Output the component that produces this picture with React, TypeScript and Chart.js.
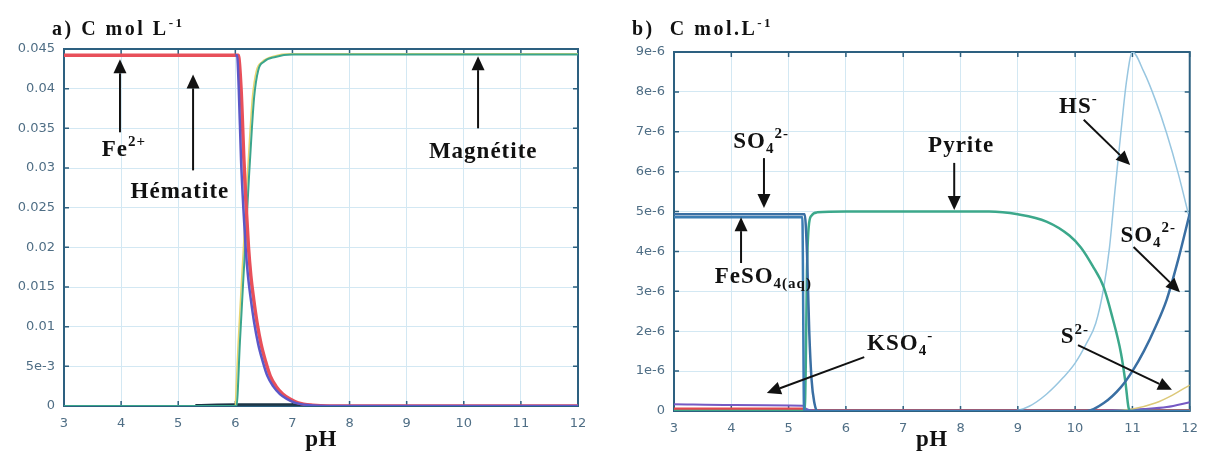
import React, { useEffect, useRef } from 'react';
import { Chart, registerables } from 'chart.js';

Chart.register(...registerables);

// ---------- shared axis labels ----------
const phTickLabels = ['3', '4', '5', '6', '7', '8', '9', '10', '11', '12'];
const yTickLabelsA = ['0', '5e-3', '0.01', '0.015', '0.02', '0.025', '0.03', '0.035', '0.04', '0.045'];
const yTickLabelsB = ['0', '1e-6', '2e-6', '3e-6', '4e-6', '5e-6', '6e-6', '7e-6', '8e-6', '9e-6'];

// ---------- panel a) ----------
const hemPH = [6.0, 6.03, 6.06, 6.1, 6.14, 6.18, 6.22, 6.27, 6.33, 6.4, 6.48, 6.56, 6.66, 6.78, 6.9, 7.05, 7.3, 7.6, 12];
const hemC = [0.0442, 0.0442, 0.04, 0.031, 0.025, 0.02, 0.0165, 0.0135, 0.0105, 0.0078, 0.0056, 0.0038, 0.0025, 0.0015, 0.0009, 0.0004, 0.0001, 0, 0];
const fe2PH = [3, 6.05, 6.1, 6.15, 6.19, 6.23, 6.27, 6.32, 6.38, 6.45, 6.53, 6.61, 6.71, 6.83, 6.95, 7.1, 7.35, 7.65, 12];
const fe2C = [0.0442, 0.0442, 0.04, 0.031, 0.025, 0.02, 0.0165, 0.0135, 0.0105, 0.0078, 0.0056, 0.0038, 0.0025, 0.0015, 0.0009, 0.0004, 0.0001, 0, 0];
const magPH = [3, 6.02, 6.08, 6.14, 6.18, 6.24, 6.29, 6.33, 6.4, 6.5, 6.7, 7.0, 12];
const magC = [0, 0, 0.008, 0.016, 0.021, 0.029, 0.035, 0.039, 0.0423, 0.0434, 0.044, 0.0443, 0.0443];
const yelPH = [6.0, 6.05, 6.11, 6.15, 6.21, 6.26, 6.3, 6.37, 6.47, 6.67, 6.97, 12];
const yelC = [0, 0.008, 0.016, 0.021, 0.029, 0.035, 0.039, 0.0423, 0.0434, 0.0441, 0.0444, 0.0444];
const minorPH = [5.3, 6.0, 7.0, 7.3, 7.5];
const minorC = [0.0001, 0.0002, 0.0002, 0.0001, 0];

// ---------- panel b) ----------
const feso4PH = [3, 5.24, 5.27, 12];
const feso4C = [4.86e-6, 4.86e-6, 0, 0];
const so4PH = [3, 5.28, 5.32, 5.36, 5.4, 5.45, 5.5, 10.2, 10.5, 10.8, 11.0, 11.2, 11.4, 11.6, 11.8, 12];
const so4C = [4.93e-6, 4.93e-6, 4.0e-6, 2.0e-6, 0.8e-6, 0.2e-6, 0, 0, 0.2e-6, 0.6e-6, 1.0e-6, 1.5e-6, 2.1e-6, 2.8e-6, 3.8e-6, 4.95e-6];
const pyrPH = [3, 5.28, 5.3, 5.32, 5.35, 5.4, 5.5, 6, 8.5, 9.0, 9.5, 9.9, 10.1, 10.3, 10.5, 10.65, 10.8, 10.88, 10.93, 10.96, 12];
const pyrC = [0, 0, 1.2e-6, 3.5e-6, 4.6e-6, 4.9e-6, 4.98e-6, 5.0e-6, 5.0e-6, 4.93e-6, 4.75e-6, 4.4e-6, 4.1e-6, 3.65e-6, 3.1e-6, 2.35e-6, 1.45e-6, 0.7e-6, 0.1e-6, 0, 0];
const hsPH = [3, 8.9, 9.2, 9.5, 9.8, 10.0, 10.2, 10.36, 10.5, 10.6, 10.7, 10.8, 10.9, 11.0, 11.2, 11.4, 11.6, 11.8, 12];
const hsC = [0, 0, 0.12e-6, 0.42e-6, 0.85e-6, 1.2e-6, 1.7e-6, 2.2e-6, 3.1e-6, 4.1e-6, 5.6e-6, 7.0e-6, 8.3e-6, 9.0e-6, 8.5e-6, 7.8e-6, 6.95e-6, 5.95e-6, 4.8e-6];
const s2PH = [10.6, 11.0, 11.4, 11.7, 12];
const s2C = [0, 0.05e-6, 0.2e-6, 0.4e-6, 0.65e-6];
const kso4PH = [3, 4, 5.25, 5.3, 5.4, 5.5, 10.3, 10.8, 11.2, 11.6, 12];
const kso4C = [0.17e-6, 0.15e-6, 0.13e-6, 0.06e-6, 0.01e-6, 0, 0, 0.02e-6, 0.05e-6, 0.1e-6, 0.22e-6];
const feBPH = [3, 5.27, 5.3, 12];
const feBC = [0.04e-6, 0.04e-6, 0, 0];
const otherPH = [8.3, 10, 12];
const otherC = [0, 0.005e-6, 0.02e-6];

// ---------- styles ----------
const GRID = '#d3e8f3';
const BOX = '#2d6080';
const TICKTXT = '#4f6e85';
const INK = '#111111';
const SERIF = '"Liberation Serif", "Times New Roman", serif';

type Seg = [string, number];
type Series = { x: number[]; y: number[]; color: string; w: number };
type Label = { segs: Seg[]; x: number; y: number; align: 'left' | 'center' };
type Arrow = { x1: number; y1: number; x2: number; y2: number };

function drawRich(ctx: CanvasRenderingContext2D, segs: Seg[], x: number, y: number, size: number, align: string, spacing: number) {
  const small = Math.round(size * 0.64);
  const fontFor = (k: number) => `bold ${k === 0 ? size : small}px ${SERIF}`;
  (ctx as any).letterSpacing = spacing + 'px';
  const widths = segs.map(([t, k]) => {
    ctx.font = fontFor(k);
    return ctx.measureText(t).width;
  });
  const total = widths.reduce((a, b) => a + b, 0);
  let cx = align === 'center' ? x - total / 2 : x;
  ctx.fillStyle = INK;
  ctx.textAlign = 'left';
  ctx.textBaseline = 'alphabetic';
  segs.forEach(([t, k], i) => {
    ctx.font = fontFor(k);
    const dy = k === 1 ? -size * 0.42 : k === -1 ? size * 0.22 : 0;
    ctx.fillText(t, cx, y + dy);
    cx += widths[i];
  });
  (ctx as any).letterSpacing = '0px';
}

function drawArrow(ctx: CanvasRenderingContext2D, x1: number, y1: number, x2: number, y2: number) {
  const ang = Math.atan2(y2 - y1, x2 - x1);
  const len = 14;
  const hw = 6.5;
  const bx = x2 - len * Math.cos(ang);
  const by = y2 - len * Math.sin(ang);
  ctx.strokeStyle = INK;
  ctx.fillStyle = INK;
  ctx.lineWidth = 2;
  ctx.beginPath();
  ctx.moveTo(x1, y1);
  ctx.lineTo(bx, by);
  ctx.stroke();
  ctx.beginPath();
  ctx.moveTo(x2, y2);
  ctx.lineTo(bx + hw * Math.sin(ang), by - hw * Math.cos(ang));
  ctx.lineTo(bx - hw * Math.sin(ang), by + hw * Math.cos(ang));
  ctx.closePath();
  ctx.fill();
}

type Spec = {
  series: Series[];
  ymax: number;
  ystep: number;
  yLabels: string[];
  padTop: number;
  padRight: number;
  yw: number;
  xh: number;
  title: Seg[];
  titleX: number;
  labels: Label[];
  arrows: Arrow[];
};

function makePlugin(spec: Spec) {
  return {
    id: 'decor',
    beforeDatasetsDraw(chart: any) {
      const { ctx, chartArea: a, scales } = chart;
      ctx.save();
      ctx.strokeStyle = BOX;
      ctx.lineWidth = 1.5;
      const tl = 5;
      scales.x.ticks.forEach((t: any) => {
        const px = scales.x.getPixelForValue(t.value);
        ctx.beginPath();
        ctx.moveTo(px, a.bottom);
        ctx.lineTo(px, a.bottom - tl);
        ctx.moveTo(px, a.top);
        ctx.lineTo(px, a.top + tl);
        ctx.stroke();
      });
      scales.y.ticks.forEach((t: any) => {
        const py = scales.y.getPixelForValue(t.value);
        ctx.beginPath();
        ctx.moveTo(a.left, py);
        ctx.lineTo(a.left + tl, py);
        ctx.moveTo(a.right, py);
        ctx.lineTo(a.right - tl, py);
        ctx.stroke();
      });
      ctx.lineWidth = 2;
      ctx.strokeRect(a.left, a.top, a.right - a.left, a.bottom - a.top);
      ctx.restore();
    },
    afterDraw(chart: any) {
      const { ctx, chartArea: a, scales } = chart;
      ctx.save();
      drawRich(ctx, spec.title, spec.titleX, 35, 20, 'left', 2.5);
      drawRich(ctx, [['pH', 0]], (a.left + a.right) / 2, 446, 23, 'center', 0.5);
      spec.arrows.forEach((ar) => {
        drawArrow(
          ctx,
          scales.x.getPixelForValue(ar.x1),
          scales.y.getPixelForValue(ar.y1),
          scales.x.getPixelForValue(ar.x2),
          scales.y.getPixelForValue(ar.y2)
        );
      });
      spec.labels.forEach((lb) => {
        drawRich(ctx, lb.segs, scales.x.getPixelForValue(lb.x), scales.y.getPixelForValue(lb.y), 23, lb.align, 1);
      });
      ctx.restore();
    },
  };
}

function buildChart(canvas: HTMLCanvasElement, spec: Spec) {
  return new Chart(canvas, {
    type: 'line',
    data: {
      datasets: spec.series.map((s) => ({
        data: s.x.map((x, i) => ({ x, y: s.y[i] })),
        borderColor: s.color,
        backgroundColor: s.color,
        borderWidth: s.w,
        pointRadius: 0,
        fill: false,
        cubicInterpolationMode: 'monotone' as const,
      })),
    },
    options: {
      responsive: false,
      animation: false,
      layout: { padding: { top: spec.padTop, right: spec.padRight, left: 0, bottom: 0 } },
      plugins: { legend: { display: false }, tooltip: { enabled: false }, title: { display: false } },
      scales: {
        x: {
          type: 'linear',
          min: 3,
          max: 12,
          ticks: {
            stepSize: 1,
            color: TICKTXT,
            padding: 10,
            font: { family: '"DejaVu Sans", sans-serif', size: 13 },
            callback: (_v: any, i: number) => phTickLabels[i],
          },
          grid: { color: GRID, drawTicks: false, lineWidth: 1 },
          border: { display: false },
          afterFit: (sc: any) => {
            sc.height = spec.xh;
          },
        },
        y: {
          type: 'linear',
          min: 0,
          max: spec.ymax,
          ticks: {
            stepSize: spec.ystep,
            color: TICKTXT,
            padding: 9,
            font: { family: '"DejaVu Sans", sans-serif', size: 13 },
            callback: (_v: any, i: number) => spec.yLabels[i],
          },
          grid: { color: GRID, drawTicks: false, lineWidth: 1 },
          border: { display: false },
          afterFit: (sc: any) => {
            sc.width = spec.yw;
          },
        },
      },
    } as any,
    plugins: [makePlugin(spec)],
  });
}

const specA: Spec = {
  series: [
    { x: hemPH, y: hemC, color: '#5b58c8', w: 2.5 },
    { x: fe2PH, y: fe2C, color: '#e8505a', w: 3.5 },
    { x: magPH, y: magC, color: '#3aa58c', w: 2 },
    { x: yelPH, y: yelC, color: '#e8d66e', w: 1.5 },
    { x: minorPH, y: minorC, color: '#1d3646', w: 2.5 },
  ],
  ymax: 0.045,
  ystep: 0.005,
  yLabels: yTickLabelsA,
  padTop: 49,
  padRight: 32,
  yw: 64,
  xh: 46,
  title: [['a) C mol L', 0], ['-1', 1]],
  titleX: 52,
  labels: [
    { segs: [['Fe', 0], ['2+', 1]], x: 4.05, y: 0.0315, align: 'center' },
    { segs: [['Hématite', 0]], x: 5.03, y: 0.0262, align: 'center' },
    { segs: [['Magnétite', 0]], x: 10.34, y: 0.0313, align: 'center' },
  ],
  arrows: [
    { x1: 3.98, y1: 0.0345, x2: 3.98, y2: 0.0437 },
    { x1: 5.26, y1: 0.0297, x2: 5.26, y2: 0.0418 },
    { x1: 10.25, y1: 0.035, x2: 10.25, y2: 0.0441 },
  ],
};

const specB: Spec = {
  series: [
    { x: feso4PH, y: feso4C, color: '#3b7db3', w: 2.5 },
    { x: so4PH, y: so4C, color: '#3a6fa3', w: 2.5 },
    { x: pyrPH, y: pyrC, color: '#3ca88b', w: 2.5 },
    { x: hsPH, y: hsC, color: '#98c6e0', w: 1.5 },
    { x: s2PH, y: s2C, color: '#dcc878', w: 1.5 },
    { x: kso4PH, y: kso4C, color: '#7659c4', w: 2 },
    { x: feBPH, y: feBC, color: '#e4474e', w: 4 },
    { x: otherPH, y: otherC, color: '#e2a646', w: 1.5 },
  ],
  ymax: 9e-6,
  ystep: 1e-6,
  yLabels: yTickLabelsB,
  padTop: 52,
  padRight: 13,
  yw: 64,
  xh: 41,
  title: [['b)  C mol.L', 0], ['-1', 1]],
  titleX: 22,
  labels: [
    { segs: [['SO', 0], ['4', -1], ['2-', 1]], x: 4.52, y: 6.59e-6, align: 'center' },
    { segs: [['FeSO', 0], ['4(aq)', -1]], x: 3.71, y: 3.21e-6, align: 'left' },
    { segs: [['Pyrite', 0]], x: 8.01, y: 6.49e-6, align: 'center' },
    { segs: [['HS', 0], ['-', 1]], x: 9.72, y: 7.47e-6, align: 'left' },
    { segs: [['SO', 0], ['4', -1], ['2-', 1]], x: 10.79, y: 4.24e-6, align: 'left' },
    { segs: [['S', 0], ['2-', 1]], x: 9.75, y: 1.7e-6, align: 'left' },
    { segs: [['KSO', 0], ['4', -1], ['-', 1]], x: 6.37, y: 1.53e-6, align: 'left' },
  ],
  arrows: [
    { x1: 4.57, y1: 6.34e-6, x2: 4.57, y2: 5.09e-6 },
    { x1: 4.17, y1: 3.71e-6, x2: 4.17, y2: 4.86e-6 },
    { x1: 7.89, y1: 6.22e-6, x2: 7.89, y2: 5.04e-6 },
    { x1: 10.15, y1: 7.3e-6, x2: 10.96, y2: 6.17e-6 },
    { x1: 11.02, y1: 4.11e-6, x2: 11.83, y2: 2.98e-6 },
    { x1: 10.05, y1: 1.65e-6, x2: 11.69, y2: 0.53e-6 },
    { x1: 6.32, y1: 1.35e-6, x2: 4.62, y2: 0.45e-6 },
  ],
};

function Panel({ spec, left, width }: { spec: Spec; left: number; width: number }) {
  const ref = useRef<HTMLCanvasElement | null>(null);
  useEffect(() => {
    if (!ref.current) return;
    const chart = buildChart(ref.current, spec);
    return () => chart.destroy();
  }, [spec]);
  return (
    <canvas
      ref={ref}
      width={width}
      height={452}
      style={{ position: 'absolute', left, top: 0, width, height: 452, display: 'block' }}
    />
  );
}

export default function App() {
  return (
    <div style={{ position: 'fixed', left: 0, top: 0, width: 1208, height: 452, background: '#ffffff', overflow: 'hidden' }}>
      <Panel spec={specA} left={0} width={610} />
      <Panel spec={specB} left={610} width={598} />
    </div>
  );
}
